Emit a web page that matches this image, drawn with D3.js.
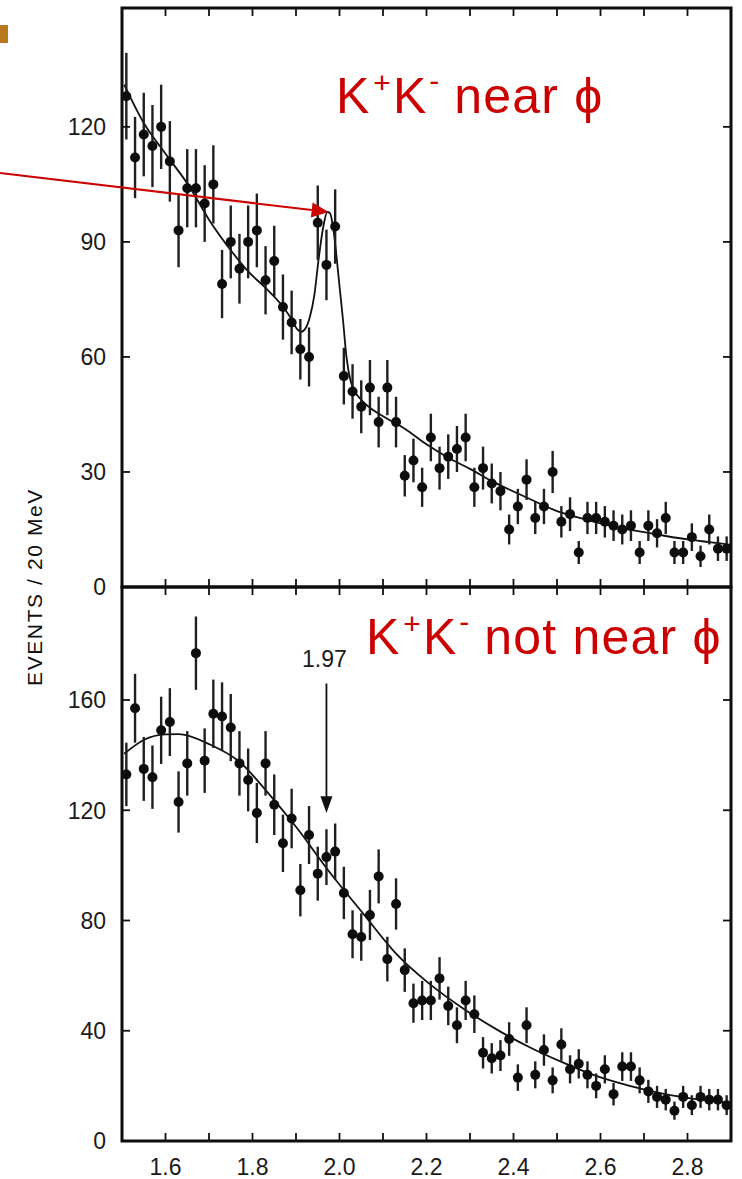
<!DOCTYPE html>
<html>
<head>
<meta charset="utf-8">
<script src="https://cdn.jsdelivr.net/npm/d3@7"></script>
<style>
  body { margin: 0; background: #fff; }
  svg { display: block; }
  .tick-label { font-family: "Liberation Sans", Arial, sans-serif; font-size: 23px; fill: #1a1a1a; }
  .axis-title { font-family: "Liberation Sans", Arial, sans-serif; font-size: 21px; fill: #111; }
  .note { font-family: "Liberation Sans", Arial, sans-serif; fill: #cc0000; }
</style>
</head>
<body>
<svg id="chart"></svg>
<script>
// DATA (20 MeV bins)
const massBins = [1.51, 1.53, 1.55, 1.57, 1.59, 1.61, 1.63, 1.65, 1.67, 1.69,
                  1.71, 1.73, 1.75, 1.77, 1.79, 1.81, 1.83, 1.85, 1.87, 1.89,
                  1.91, 1.93, 1.95, 1.97, 1.99, 2.01, 2.03, 2.05, 2.07, 2.09,
                  2.11, 2.13, 2.15, 2.17, 2.19, 2.21, 2.23, 2.25, 2.27, 2.29,
                  2.31, 2.33, 2.35, 2.37, 2.39, 2.41, 2.43, 2.45, 2.47, 2.49,
                  2.51, 2.53, 2.55, 2.57, 2.59, 2.61, 2.63, 2.65, 2.67, 2.69,
                  2.71, 2.73, 2.75, 2.77, 2.79, 2.81, 2.83, 2.85, 2.87, 2.89];

const nearPhiCounts = [128, 112, 118, 115, 120, 111, 93, 104, 104, 100,
                       105, 79, 90, 83, 90, 93, 80, 85, 73, 69,
                       62, 60, 95, 84, 94, 55, 51, 47, 52, 43,
                       52, 43, 29, 33, 26, 39, 31, 34, 36, 39,
                       26, 31, 27, 25, 15, 21, 28, 18, 21, 30,
                       17, 19, 9, 18, 18, 17, 16, 15, 16, 9,
                       16, 14, 18, 9, 9, 13, 8, 15, 10, 10];
const nearPhiErrors = [11.3, 10.6, 10.9, 10.7, 11.0, 10.5, 9.6, 10.2, 10.2, 10.0,
                       10.2, 8.9, 9.5, 9.1, 9.5, 9.6, 8.9, 9.2, 8.5, 8.3,
                       7.9, 7.7, 9.7, 9.2, 9.7, 7.4, 7.1, 6.9, 7.2, 6.6,
                       7.2, 6.6, 5.4, 5.7, 5.1, 6.2, 5.6, 5.8, 6.0, 6.2,
                       5.1, 5.6, 5.2, 5.0, 3.9, 4.6, 5.3, 4.2, 4.6, 5.5,
                       4.1, 4.4, 3.0, 4.2, 4.2, 4.1, 4.0, 3.9, 4.0, 3.0,
                       4.0, 3.7, 4.2, 3.0, 3.0, 3.6, 2.8, 3.9, 3.2, 3.2];
const nearPhiFitMass = [1.505, 1.55, 1.60, 1.655, 1.70, 1.755, 1.79, 1.83, 1.87, 1.89,
                        1.902, 1.912, 1.922, 1.932, 1.942, 1.952, 1.962, 1.972, 1.978, 1.985,
                        1.992, 2.0, 2.008, 2.016, 2.025, 2.035, 2.05, 2.10, 2.15, 2.20,
                        2.25, 2.30, 2.35, 2.40, 2.45, 2.50, 2.55, 2.60, 2.65, 2.70,
                        2.75, 2.80, 2.85, 2.90];
const nearPhiFitEvents = [131, 121, 113, 104.4, 95.8, 87.1, 82.3, 78, 73.1, 69.8,
                          67.3, 66.6, 67.5, 70.5, 76, 85.5, 93.5, 97.8, 97.5, 94,
                          87.5, 78.5, 69.7, 60, 54, 51, 48.8, 44.5, 41.3, 37.2,
                          33.7, 30.8, 27.6, 24.9, 22.3, 19.8, 18.1, 16.6, 15.3, 14.3,
                          13.3, 12.4, 11.7, 11];

const notNearCounts = [133, 157, 135, 132, 149, 152, 123, 137, 177, 138,
                       155, 154, 150, 137, 131, 119, 137, 122, 108, 117,
                       91, 111, 97, 103, 105, 90, 75, 74, 82, 96,
                       66, 86, 62, 50, 51, 51, 59, 49, 42, 51,
                       46, 32, 30, 31, 37, 23, 42, 24, 33, 22,
                       35, 26, 28, 24, 20, 26, 17, 27, 27, 22,
                       18, 16, 15, 11, 16, 13, 16, 15, 15, 13];
const notNearErrors = [11.5, 12.5, 11.6, 11.5, 12.2, 12.3, 11.1, 11.7, 13.3, 11.7,
                       12.4, 12.4, 12.2, 11.7, 11.4, 10.9, 11.7, 11.0, 10.4, 10.8,
                       9.5, 10.5, 9.8, 10.1, 10.2, 9.5, 8.7, 8.6, 9.1, 9.8,
                       8.1, 9.3, 7.9, 7.1, 7.1, 7.1, 7.7, 7.0, 6.5, 7.1,
                       6.8, 5.7, 5.5, 5.6, 6.1, 4.8, 6.5, 4.9, 5.7, 4.7,
                       5.9, 5.1, 5.3, 4.9, 4.5, 5.1, 4.1, 5.2, 5.2, 4.7,
                       4.2, 4.0, 3.9, 3.3, 4.0, 3.6, 4.0, 3.9, 3.9, 3.6];
const notNearFitMass = [1.505, 1.55, 1.60, 1.63, 1.70, 1.77, 1.84, 1.90, 1.977, 2.055,
                        2.13, 2.207, 2.285, 2.36, 2.437, 2.513, 2.59, 2.667, 2.743, 2.82, 2.90];
const notNearFitEvents = [140.5, 145.5, 147.5, 147.6, 144, 137.6, 125.5, 114, 97.6, 82.4,
                          68, 57, 48, 40.6, 34, 28.5, 23.6, 20, 17.2, 15.2, 13.8];

const massDomain = [1.5, 2.9];
const massTicks = [1.6, 1.7, 1.8, 1.9, 2.0, 2.1, 2.2, 2.3, 2.4, 2.5, 2.6, 2.7, 2.8];
const massLabels = [1.6, 1.8, 2.0, 2.2, 2.4, 2.6, 2.8];
const nearPhiTicks = [0, 30, 60, 90, 120];
const notNearTicks = [0, 40, 80, 120, 160];
const nearPhiMax = 151;
const notNearMax = 201;
const peakMass = 1.975;
const peakEvents = 97.8;
const markMass = 1.97;

// SET VARIABLES
const _width = 742;
const _height = 1179;
const _tick = 8;
const _red = '#cc0000';

const svg = d3.select('#chart')
              .attr('width', _width)
              .attr('height', _height);

const x = d3.scaleLinear().domain(massDomain).range([122, 731]);
const yTop = d3.scaleLinear().domain([0, nearPhiMax]).range([587, 8]);
const yBottom = d3.scaleLinear().domain([0, notNearMax]).range([1141, 587]);

// DRAW ONE PANEL
function drawPanel(y, counts, errors, fitMass, fitEvents, yTicks, showMassLabels) {
  const g = svg.append('g');
  const x0 = x(massDomain[0]), x1 = x(massDomain[1]);
  const yT = y(y.domain()[1]), yB = y(0);

  // fit curve
  const line = d3.line()
                 .x((d, i) => x(fitMass[i]))
                 .y(d => y(d))
                 .curve(d3.curveMonotoneX);
  g.append('path')
     .datum(fitEvents)
     .attr('d', line)
     .attr('fill', 'none')
     .attr('stroke', '#111')
     .attr('stroke-width', 1.8);

  // error bars
  g.selectAll('line.err')
     .data(counts)
     .enter()
   .append('line')
     .attr('class', 'err')
     .attr('x1', (d, i) => x(massBins[i]))
     .attr('x2', (d, i) => x(massBins[i]))
     .attr('y1', (d, i) => y(d + errors[i]))
     .attr('y2', (d, i) => y(Math.max(0, d - errors[i])))
     .attr('stroke', '#1f1f1f')
     .attr('stroke-width', 2.4);

  // points
  g.selectAll('circle')
     .data(counts)
     .enter()
   .append('circle')
     .attr('cx', (d, i) => x(massBins[i]))
     .attr('cy', d => y(d))
     .attr('r', 5)
     .attr('fill', '#0d0d0d');

  // frame
  g.append('rect')
     .attr('x', x0)
     .attr('y', yT)
     .attr('width', x1 - x0)
     .attr('height', yB - yT)
     .attr('fill', 'none')
     .attr('stroke', '#0d0d0d')
     .attr('stroke-width', 3);

  // y ticks, both sides
  g.selectAll('line.ytick')
     .data(yTicks.filter(d => d > 0))
     .enter()
   .append('g')
     .each(function(d) {
       d3.select(this).append('line')
         .attr('x1', x0).attr('x2', x0 + _tick)
         .attr('y1', y(d)).attr('y2', y(d))
         .attr('stroke', '#111').attr('stroke-width', 1.8);
       d3.select(this).append('line')
         .attr('x1', x1 - _tick).attr('x2', x1)
         .attr('y1', y(d)).attr('y2', y(d))
         .attr('stroke', '#111').attr('stroke-width', 1.8);
     });

  g.selectAll('text.ylab')
     .data(yTicks)
     .enter()
   .append('text')
     .attr('class', 'tick-label')
     .attr('text-anchor', 'end')
     .attr('x', x0 - 16)
     .attr('y', d => y(d))
     .attr('dy', '0.36em')
     .text(d => d);

  // x ticks, top and bottom
  g.selectAll('g.xtick')
     .data(massTicks)
     .enter()
   .append('g')
     .each(function(d) {
       d3.select(this).append('line')
         .attr('x1', x(d)).attr('x2', x(d))
         .attr('y1', yB).attr('y2', yB - _tick)
         .attr('stroke', '#111').attr('stroke-width', 1.8);
       d3.select(this).append('line')
         .attr('x1', x(d)).attr('x2', x(d))
         .attr('y1', yT).attr('y2', yT + _tick)
         .attr('stroke', '#111').attr('stroke-width', 1.8);
     });

  if (showMassLabels) {
    g.selectAll('text.xlab')
       .data(massLabels)
       .enter()
     .append('text')
       .attr('class', 'tick-label')
       .attr('text-anchor', 'middle')
       .attr('x', d => x(d))
       .attr('y', yB + 34)
       .text(d3.format('.1f'));
  }
  return g;
}

drawPanel(yTop, nearPhiCounts, nearPhiErrors, nearPhiFitMass, nearPhiFitEvents, nearPhiTicks, false);
drawPanel(yBottom, notNearCounts, notNearErrors, notNearFitMass, notNearFitEvents, notNearTicks, true);

// Y AXIS TITLE
svg.append('text')
   .attr('class', 'axis-title')
   .attr('text-anchor', 'middle')
   .attr('transform', `translate(42, ${yTop(0)}) rotate(-90)`)
   .attr('letter-spacing', 1.6)
   .text('EVENTS / 20 MeV');

// 1.97 MARKER
svg.append('text')
   .attr('class', 'tick-label')
   .attr('text-anchor', 'middle')
   .attr('x', x(markMass) - 2)
   .attr('y', yBottom(172))
   .text('1.97');
svg.append('line')
   .attr('x1', x(markMass)).attr('x2', x(markMass))
   .attr('y1', yBottom(166)).attr('y2', yBottom(124))
   .attr('stroke', '#111').attr('stroke-width', 1.8);
svg.append('path')
   .attr('d', `M${x(markMass) - 6},${yBottom(124) - 3} L${x(markMass) + 6},${yBottom(124) - 3} L${x(markMass)},${yBottom(119)} Z`)
   .attr('fill', '#111');

// RED ANNOTATIONS
function redLabel(tx, ty, words) {
  const t = svg.append('text')
               .attr('class', 'note')
               .attr('x', tx)
               .attr('y', ty)
               .attr('font-size', 50);
  t.append('tspan').text('K');
  t.append('tspan').attr('font-size', 30).attr('dy', -20).attr('dx', 4).text('+');
  t.append('tspan').attr('dy', 20).attr('dx', 2).text('K');
  t.append('tspan').attr('font-size', 30).attr('dy', -22).attr('dx', 3).text('-');
  t.append('tspan').attr('dy', 22).attr('letter-spacing', 1.2).text(' ' + words + ' ϕ');
}
redLabel(336, 113, 'near');
redLabel(366, 654, 'not near');

// arrow to the peak
const tipX = x(peakMass), tipY = yTop(peakEvents);
const ang = Math.atan2(tipY - 173, tipX - 0);
const headLen = 17, headHalf = 7.5;
const baseX = tipX - headLen * Math.cos(ang), baseY = tipY - headLen * Math.sin(ang);
svg.append('line')
   .attr('x1', 0).attr('y1', 173)
   .attr('x2', baseX).attr('y2', baseY)
   .attr('stroke', _red).attr('stroke-width', 2);
svg.append('path')
   .attr('d', `M${tipX},${tipY} L${baseX - headHalf * Math.sin(ang)},${baseY + headHalf * Math.cos(ang)} L${baseX + headHalf * Math.sin(ang)},${baseY - headHalf * Math.cos(ang)} Z`)
   .attr('fill', _red);

// slide bullet remnant at top-left
svg.append('rect')
   .attr('x', 0).attr('y', 25)
   .attr('width', 8).attr('height', 18)
   .attr('fill', '#b8781e');
</script>
</body>
</html>
